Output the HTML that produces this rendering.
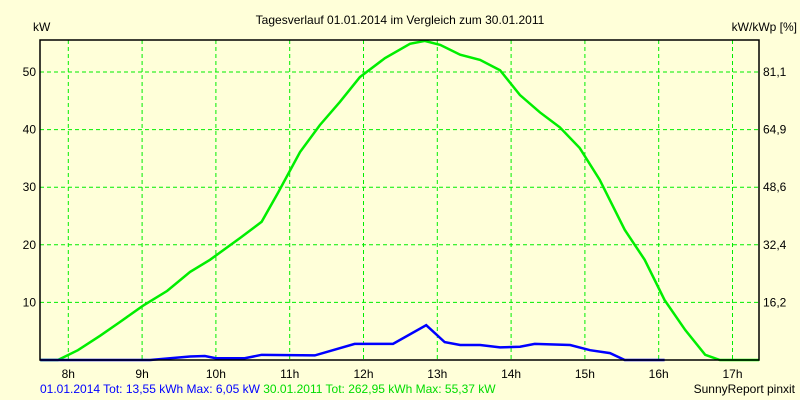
<!DOCTYPE html>
<html><head><meta charset="utf-8"><style>
body{margin:0;background:#ffffd9;}
svg{display:block;font-family:"Liberation Sans",sans-serif;font-size:12px;}
</style></head><body>
<svg id="c" width="800" height="400">
<rect width="800" height="400" fill="#ffffd9"/>
<g id="grid"></g><g id="series"></g><g id="labels"></g>
<rect x="40" y="40" width="719" height="320" fill="none" stroke="#000" stroke-width="1.5"/>
<text x="400" y="24" text-anchor="middle">Tagesverlauf 01.01.2014 im Vergleich zum 30.01.2011</text>
<text x="33" y="31">kW</text>
<text x="797" y="31" text-anchor="end">kW/kWp [%]</text>
<text x="40" y="393"><tspan fill="#0000ff">01.01.2014 Tot: 13,55 kWh Max: 6,05 kW </tspan><tspan fill="#00dd00">30.01.2011 Tot: 262,95 kWh Max: 55,37 kW</tspan></text>
<text x="795" y="393" text-anchor="end">SunnyReport pinxit</text>
</svg>
<script>
const hourTicks=[8,9,10,11,12,13,14,15,16,17];
const kwTicks=[10,20,30,40,50];
const pctLabels=["16,2","32,4","48,6","64,9","81,1"];
const greenH=[7.62,7.86,8.13,8.43,8.70,9.01,9.34,9.65,9.92,10.33,10.62,10.84,11.14,11.41,11.68,11.95,12.29,12.63,12.83,13.04,13.31,13.58,13.85,14.12,14.39,14.66,14.93,15.20,15.54,15.81,16.08,16.36,16.63,16.83,17.36];
const greenKW=[0,0,1.7,4.2,6.6,9.4,12.0,15.3,17.4,21.2,24.0,29.0,36.1,40.8,44.8,49.1,52.4,54.9,55.4,54.7,53.0,52.1,50.3,46.0,43.0,40.4,36.8,31.3,22.6,17.4,10.4,5.2,0.9,0,0];
const blueH=[7.62,9.11,9.65,9.85,10.0,10.39,10.62,11.34,11.88,12.4,12.85,13.1,13.31,13.58,13.85,14.12,14.32,14.8,15.07,15.34,15.54,16.08];
const blueKW=[0,0,0.6,0.7,0.3,0.3,0.9,0.8,2.8,2.8,6.05,3.1,2.6,2.6,2.2,2.3,2.8,2.6,1.7,1.2,0,0];
const NS="http://www.w3.org/2000/svg";
const xS=h=>68.3+(h-8)*73.8, yS=v=>360-v*5.76;
function mk(t,a,p){const e=document.createElementNS(NS,t);for(const k in a)e.setAttribute(k,a[k]);p.appendChild(e);return e;}
const g=document.getElementById('grid'),L=document.getElementById('labels'),S=document.getElementById('series');
hourTicks.forEach(h=>{const x=xS(h);
 const l=mk('line',{x1:x,x2:x,y1:40,y2:360,stroke:'#00ee00','stroke-dasharray':'4,3'},g);
 
 
 const t=mk('text',{x:x,y:378,'text-anchor':'middle'},L);t.textContent=h+'h';
 
 });
kwTicks.forEach((v,i)=>{const y=yS(v);
 const l=mk('line',{x1:40,x2:759,y1:y,y2:y,stroke:'#00ee00','stroke-dasharray':'4,3'},g);
 
 
 const t=mk('text',{x:36,y:y+4,'text-anchor':'end'},L);t.textContent=v;
 
 
 const r=mk('text',{x:763,y:y+4},L);r.textContent=pctLabels[i];
 
 });
function line(H,V,c,n){const p=mk('polyline',{points:H.map((h,i)=>xS(h)+','+yS(V[i])).join(' '),fill:'none',stroke:c,'stroke-width':2.5},S);
 
 }
line(greenH,greenKW,'#00ee00','series-30-01-2011');
line(blueH,blueKW,'#0000ff','series-01-01-2014');
</script>
</body></html>
